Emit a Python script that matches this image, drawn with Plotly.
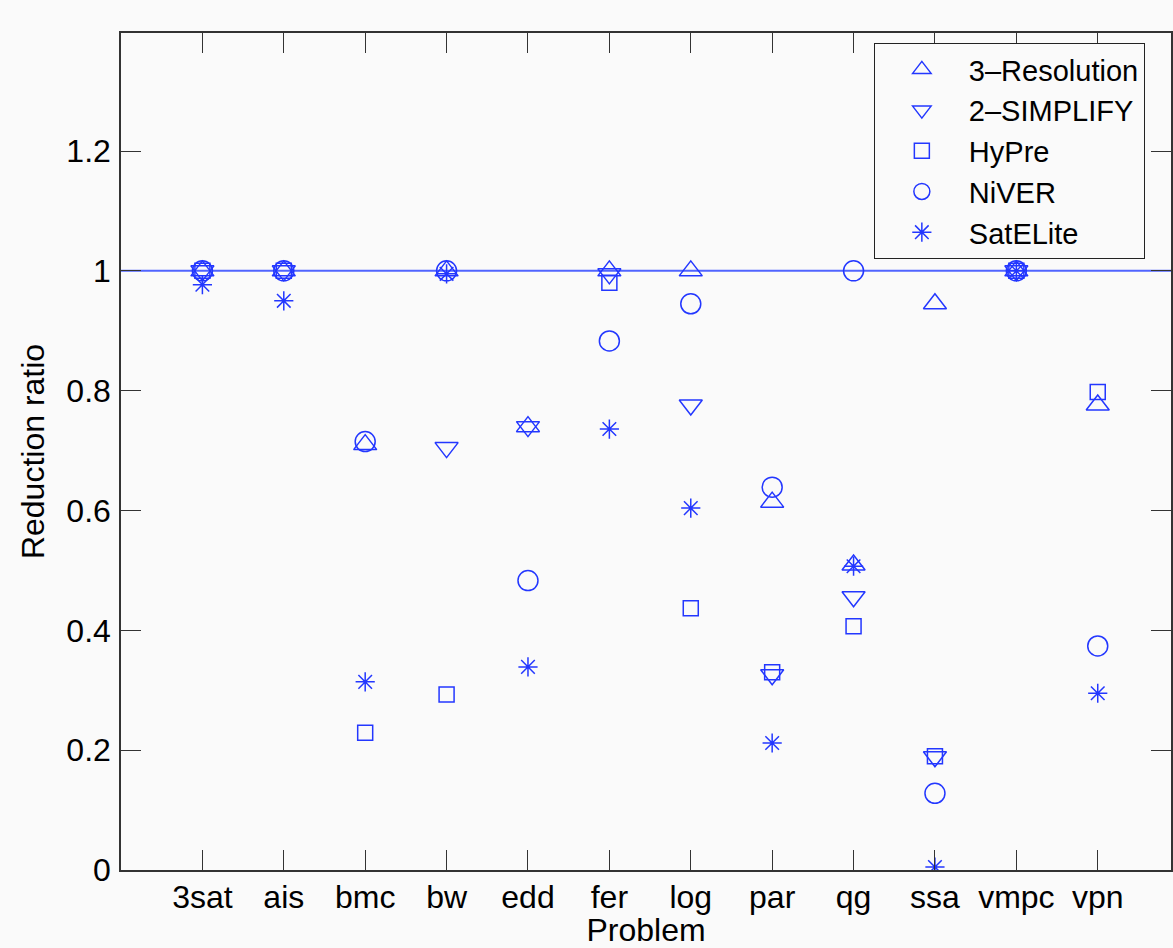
import plotly.graph_objects as go

problems = ["3sat", "ais", "bmc", "bw", "edd", "fer", "log", "par", "qg", "ssa", "vmpc", "vpn"]
x_pos = list(range(1, len(problems) + 1))

res3 = [1.0, 1.0, 0.71, 1.0, 0.74, 1.0, 1.0, 0.614, 0.509, 0.945, 1.0, 0.776]
simplify2 = [1.0, 1.0, None, 0.705, 0.74, 0.995, 0.776, 0.326, 0.456, 0.189, 1.0, None]
hypre = [1.0, 1.0, 0.229, 0.293, None, 0.98, 0.437, 0.33, 0.407, 0.19, 1.0, 0.798]
niver = [1.0, 1.0, 0.715, 1.0, 0.483, 0.883, 0.945, 0.639, 1.0, 0.128, 1.0, 0.374]
satelite = [0.977, 0.95, 0.314, 0.995, 0.339, 0.736, 0.604, 0.212, 0.507, 0.005, 1.0, 0.295]

y_ticks = [0, 0.2, 0.4, 0.6, 0.8, 1, 1.2]
y_tick_text = ["0", "0.2", "0.4", "0.6", "0.8", "1", "1.2"]

series = [
    ("3\u2013Resolution", res3, "triangle-up-open", 20),
    ("2\u2013SIMPLIFY", simplify2, "triangle-down-open", 20),
    ("HyPre", hypre, "square-open", 15),
    ("NiVER", niver, "circle-open", 20),
    ("SatELite", satelite, "asterisk-open", 16),
]

BLUE = "rgb(35,55,255)"
FONT = "Liberation Sans, Arial, Helvetica, sans-serif"
FS = 32

fig = go.Figure()
for name, vals, sym, size in series:
    fig.add_trace(go.Scatter(
        x=x_pos, y=vals, mode="markers", name=name,
        marker=dict(symbol=sym, size=size, color=BLUE,
                    line=dict(color=BLUE, width=1.5)),
    ))

fig.add_shape(type="line", xref="paper", yref="y", x0=0, x1=1, y0=1, y1=1,
              line=dict(color="rgb(80,100,255)", width=2), layer="below")

axis_common = dict(
    showgrid=False, zeroline=False, showline=True, linecolor="#333333",
    linewidth=1.5, mirror="ticks", ticks="inside", ticklen=20,
    tickcolor="#333333", tickwidth=1,
    tickfont=dict(family=FONT, size=FS, color="black"),
)

fig.update_layout(
    width=1173, height=948,
    margin=dict(l=121, r=0, t=33, b=78),
    paper_bgcolor="#fafafa", plot_bgcolor="#fafafa",
    font=dict(family=FONT, size=FS, color="black"),
    xaxis=dict(range=[0, 12.9], tickmode="array", tickvals=x_pos,
               ticktext=problems,
               title=dict(text="Problem", standoff=4,
                          font=dict(family=FONT, size=FS)),
               ticklabelstandoff=-2, **axis_common),
    yaxis=dict(range=[0, 1.397], tickmode="array", tickvals=y_ticks,
               ticktext=y_tick_text,
               title=dict(text="Reduction ratio", standoff=12,
                          font=dict(family=FONT, size=FS)),
               ticklabelstandoff=2, **axis_common),
    legend=dict(x=0.717, y=0.988, xanchor="left", yanchor="top",
                bgcolor="#fafafa", bordercolor="#222222", borderwidth=1,
                font=dict(family=FONT, size=29, color="black"),
                itemwidth=84, tracegroupgap=0),
    showlegend=True,
)

fig.write_html("out.html")
